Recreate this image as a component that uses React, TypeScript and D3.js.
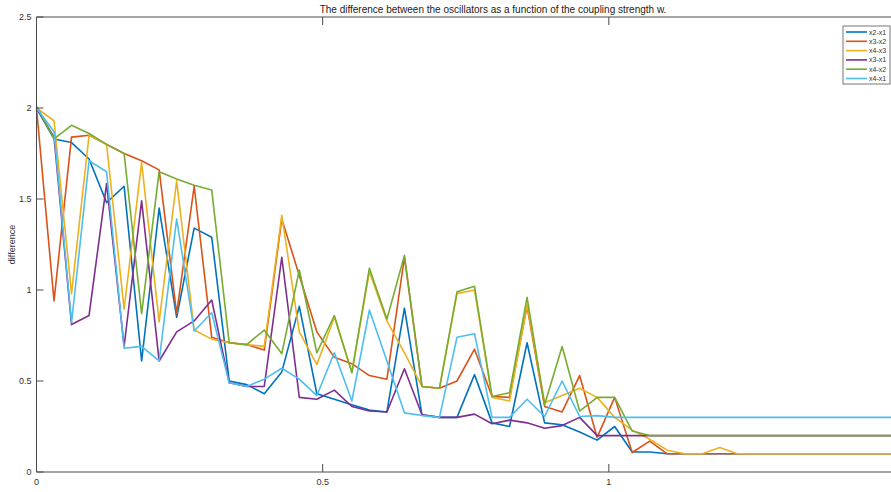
import React, { Component } from "react";
import * as d3 from "d3";

// coupling strength w, 50 samples between 0 and 1.5
const wValues = d3.range(50).map((i) => (i * 1.5) / 49);

const seriesNames = ["x2-x1", "x3-x2", "x4-x3", "x3-x1", "x4-x2", "x4-x1"];
const seriesColors = ["#0072BD", "#D95319", "#EDB120", "#7E2F8E", "#77AC30", "#4DBEEE"];

const x2x1 = [
	2.0, 1.83, 1.81, 1.72, 1.48, 1.57, 0.61, 1.45, 0.85, 1.34,
	1.29, 0.5, 0.48, 0.43, 0.55, 0.91, 0.43, 0.4, 0.37, 0.34,
	0.33, 0.9, 0.315, 0.3, 0.3, 0.535, 0.27, 0.25, 0.71, 0.27,
	0.26, 0.22, 0.175, 0.25, 0.11, 0.11, 0.1, 0.1, 0.1, 0.1,
	0.1, 0.1, 0.1, 0.1, 0.1, 0.1, 0.1, 0.1, 0.1, 0.1,
];
const x3x2 = [
	2.0, 0.94, 1.84, 1.85, 1.8, 1.75, 1.71, 1.66, 0.87, 1.57,
	0.74, 0.71, 0.7, 0.67, 1.39, 1.08, 0.77, 0.63, 0.595, 0.53,
	0.51, 1.18, 0.47, 0.46, 0.5, 0.675, 0.415, 0.41, 0.91, 0.36,
	0.33, 0.53, 0.19, 0.41, 0.107, 0.17, 0.1, 0.1, 0.1, 0.1,
	0.1, 0.1, 0.1, 0.1, 0.1, 0.1, 0.1, 0.1, 0.1, 0.1,
];
const x4x3 = [
	2.0, 1.93, 0.98, 1.85, 1.8, 0.895, 1.7, 0.825, 1.6, 0.78,
	0.73, 0.71, 0.7, 0.69, 1.41, 0.77, 0.59, 0.85, 0.55, 1.1,
	0.83, 0.655, 0.47, 0.46, 0.98, 1.0, 0.41, 0.39, 0.92, 0.38,
	0.42, 0.46, 0.41, 0.3, 0.23, 0.18, 0.12, 0.1, 0.1, 0.135,
	0.1, 0.1, 0.1, 0.1, 0.1, 0.1, 0.1, 0.1, 0.1, 0.1,
];
const x3x1 = [
	2.0, 1.84, 0.81, 0.86, 1.585, 0.69, 1.49, 0.61, 0.77, 0.83,
	0.945, 0.49, 0.47, 0.47, 1.18, 0.41, 0.4, 0.45, 0.36, 0.335,
	0.33, 0.567, 0.315, 0.3, 0.3, 0.318, 0.265, 0.285, 0.27, 0.24,
	0.255, 0.3, 0.2, 0.2, 0.2, 0.2, 0.2, 0.2, 0.2, 0.2,
	0.2, 0.2, 0.2, 0.2, 0.2, 0.2, 0.2, 0.2, 0.2, 0.2,
];
const x4x2 = [
	2.01, 1.83, 1.905, 1.86, 1.8, 1.75, 0.87, 1.65, 1.61, 1.575,
	1.55, 0.71, 0.7, 0.78, 0.65, 1.11, 0.655, 0.86, 0.545, 1.12,
	0.84, 1.19, 0.47, 0.46, 0.99, 1.02, 0.415, 0.435, 0.96, 0.37,
	0.69, 0.335, 0.41, 0.41, 0.225, 0.2, 0.2, 0.2, 0.2, 0.2,
	0.2, 0.2, 0.2, 0.2, 0.2, 0.2, 0.2, 0.2, 0.2, 0.2,
];
const x4x1 = [
	2.0, 1.87, 0.82, 1.71, 1.65, 0.68, 0.69, 0.61, 1.39, 0.775,
	0.875, 0.49, 0.47, 0.51, 0.57, 0.51, 0.42, 0.655, 0.39, 0.89,
	0.61, 0.325, 0.31, 0.3, 0.74, 0.76, 0.3, 0.3, 0.4, 0.305,
	0.5, 0.305, 0.31, 0.3, 0.3, 0.3, 0.3, 0.3, 0.3, 0.3,
	0.3, 0.3, 0.3, 0.3, 0.3, 0.3, 0.3, 0.3, 0.3, 0.3,
];

const xTicks = [0, 0.5, 1];
const yTicks = [0, 0.5, 1, 1.5, 2, 2.5];

class App extends Component {
	componentDidMount() {
		this.renderChart();
	}

	componentDidUpdate() {
		this.renderChart();
	}

	renderChart() {
		d3.select(".osc-chart").selectAll("*").remove();

		const width = 891;
		const height = 492;
		const left = 36.5;
		const right = 895;
		const top = 17;
		const bottom = 472;
		const axisColor = "#4a4a4a";
		const font = "'Liberation Sans Narrow', 'Liberation Sans', Arial, sans-serif";

		const allSeries = [x2x1, x3x2, x4x3, x3x1, x4x2, x4x1];

		const xScale = d3.scaleLinear().domain([0, 1.5]).range([left, right]);
		const yScale = d3.scaleLinear().domain([0, 2.5]).range([bottom, top]);

		const svg = d3
			.select(".osc-chart")
			.append("svg")
			.attr("width", width)
			.attr("height", height)
			.style("position", "absolute")
			.style("left", 0)
			.style("top", 0)
			.style("background", "#fff");

		const line = d3
			.line<number>()
			.x((d, i) => xScale(wValues[i]))
			.y((d) => yScale(d));

		svg.append("g")
			.selectAll("path")
			.data(allSeries)
			.join("path")
			.attr("d", (d) => line(d))
			.attr("fill", "none")
			.attr("stroke", (d, i) => seriesColors[i])
			.attr("stroke-width", 1.6)
			.attr("stroke-linejoin", "round");

		// box
		svg.append("path")
			.attr("d", `M${right},${top}H${left}V${bottom}H${right}`)
			.attr("fill", "none")
			.attr("stroke", axisColor)
			.attr("stroke-width", 1);

		// x ticks (inside, bottom and top)
		const xt = svg.append("g");
		xt.selectAll("line.bt")
			.data(xTicks)
			.join("line")
			.attr("class", "bt")
			.attr("x1", (d) => xScale(d))
			.attr("x2", (d) => xScale(d))
			.attr("y1", bottom)
			.attr("y2", bottom - 8)
			.attr("stroke", axisColor);
		xt.selectAll("line.tt")
			.data(xTicks)
			.join("line")
			.attr("class", "tt")
			.attr("x1", (d) => xScale(d))
			.attr("x2", (d) => xScale(d))
			.attr("y1", top)
			.attr("y2", top + 8)
			.attr("stroke", axisColor);
		xt.selectAll("text")
			.data(xTicks)
			.join("text")
			.attr("x", (d) => xScale(d))
			.attr("y", bottom + 13)
			.attr("text-anchor", "middle")
			.attr("font-family", font)
			.attr("font-size", 9)
			.attr("fill", "#333")
			.text((d) => d3.format("~g")(d));

		// y ticks
		const yt = svg.append("g");
		yt.selectAll("line")
			.data(yTicks)
			.join("line")
			.attr("x1", left)
			.attr("x2", left + 7)
			.attr("y1", (d) => yScale(d))
			.attr("y2", (d) => yScale(d))
			.attr("stroke", axisColor);
		yt.selectAll("text")
			.data(yTicks)
			.join("text")
			.attr("x", left - 5)
			.attr("y", (d) => yScale(d) + 3)
			.attr("text-anchor", "end")
			.attr("font-family", font)
			.attr("font-size", 9)
			.attr("fill", "#333")
			.text((d) => d3.format("~g")(d));

		svg.append("text")
			.attr("transform", `translate(15,${(top + bottom) / 2}) rotate(-90)`)
			.attr("text-anchor", "middle")
			.attr("font-family", font)
			.attr("font-size", 9)
			.attr("fill", "#333")
			.text("difference");

		svg.append("text")
			.attr("x", 466)
			.attr("y", 499)
			.attr("text-anchor", "middle")
			.attr("font-family", font)
			.attr("font-size", 9)
			.attr("fill", "#333")
			.text("w");

		svg.append("text")
			.attr("x", 493)
			.attr("y", 13)
			.attr("text-anchor", "middle")
			.attr("font-family", font)
			.attr("font-size", 10)
			.attr("fill", "#222")
			.text("The difference between the oscillators as a function of the coupling strength w.");

		// legend
		const legend = svg.append("g").attr("transform", "translate(843,26)");
		legend
			.append("rect")
			.attr("width", 47)
			.attr("height", 58)
			.attr("fill", "#fff")
			.attr("stroke", "#777")
			.attr("stroke-width", 1);
		const rows = legend
			.selectAll("g.row")
			.data(seriesNames)
			.join("g")
			.attr("class", "row")
			.attr("transform", (d, i) => `translate(0,${6 + i * 9.3})`);
		rows.append("line")
			.attr("x1", 3)
			.attr("x2", 24)
			.attr("y1", 0)
			.attr("y2", 0)
			.attr("stroke", (d, i) => seriesColors[i])
			.attr("stroke-width", 1.6);
		rows.append("text")
			.attr("x", 26)
			.attr("y", 2.5)
			.attr("font-family", font)
			.attr("font-size", 7)
			.attr("fill", "#333")
			.text((d) => d);
	}

	render() {
		return <div className="osc-chart" />;
	}
}

export default App;
